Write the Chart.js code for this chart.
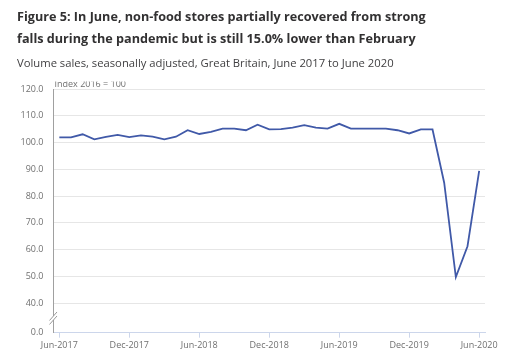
<!DOCTYPE html>
<html>
<head>
<meta charset="utf-8">
<script src="https://cdn.jsdelivr.net/npm/chart.js@4.4.1/dist/chart.umd.min.js"></script>
<style>
  html, body { margin: 0; padding: 0; background: #fff; }
  #wrap { position: relative; width: 515px; height: 359px; overflow: hidden; }
  #c { position: absolute; left: 0; top: 0; }
  .t { position: absolute; left: 17px; font-family: "Open Sans", sans-serif; white-space: nowrap; }
  #t1 { top: 5px; font-size: 12.65px; font-weight: 700; color: #323132; line-height: 22px; }
  #sub { top: 55px; font-size: 11.25px; color: #414042; line-height: 16px; }
</style>
</head>
<body>
<div id="wrap">
  <canvas id="c" width="515" height="359"></canvas>
  <div class="t" id="t1">Figure 5: In June, non-food stores partially recovered from strong<br>falls during the pandemic but is still 15.0% lower than February</div>
  <div class="t" id="sub">Volume sales, seasonally adjusted, Great Britain, June 2017 to June 2020</div>
</div>
<script>
const months = [
  "Jun-2017","Jul-2017","Aug-2017","Sep-2017","Oct-2017","Nov-2017","Dec-2017",
  "Jan-2018","Feb-2018","Mar-2018","Apr-2018","May-2018","Jun-2018",
  "Jul-2018","Aug-2018","Sep-2018","Oct-2018","Nov-2018","Dec-2018",
  "Jan-2019","Feb-2019","Mar-2019","Apr-2019","May-2019","Jun-2019",
  "Jul-2019","Aug-2019","Sep-2019","Oct-2019","Nov-2019","Dec-2019",
  "Jan-2020","Feb-2020","Mar-2020","Apr-2020","May-2020","Jun-2020"
];
const nonFoodIndex = [
  101.9, 101.9, 103.1, 101.2, 102.1, 102.9, 102.0,
  102.7, 102.2, 101.2, 102.2, 104.6, 103.2,
  104.0, 105.2, 105.2, 104.6, 106.7, 104.9,
  105.0, 105.6, 106.5, 105.6, 105.2, 107.0,
  105.2, 105.2, 105.2, 105.2, 104.6, 103.4,
  104.9, 104.9, 85.0, 49.8, 61.3, 89.4
];
const yTickValues = [40, 50, 60, 70, 80, 90, 100, 110, 120];
const yBreakValue = 29;          // bottom of the broken axis, labelled 0.0
const yBreakLabel = "0.0";
const yAxisTitle = "Index 2016 = 100";

const tickFont = { family: "'Open Sans', sans-serif", size: 9 };
const tickColor = "#707070";

const extras = {
  id: "extras",
  afterDraw(chart) {
    const ctx = chart.ctx;
    const y = chart.scales.y;
    const xAxisLeft = chart.chartArea.left;
    ctx.save();
    ctx.beginPath();
    ctx.rect(0, 81.5, 515, 20);
    ctx.clip();
    ctx.font = "9px 'Open Sans', sans-serif";
    ctx.fillStyle = "#707070";
    ctx.textBaseline = "alphabetic";
    ctx.textAlign = "left";
    ctx.fillText(yAxisTitle, xAxisLeft + 1, 87);
    ctx.restore();
    const yb = (y.getPixelForValue(40) + y.getPixelForValue(yBreakValue)) / 2;
    ctx.save();
    ctx.fillStyle = "#fff";
    ctx.fillRect(xAxisLeft - 2, yb - 2, 4, 4);
    ctx.strokeStyle = "#999";
    ctx.lineWidth = 1;
    ctx.beginPath();
    ctx.moveTo(xAxisLeft - 4, yb + 2.5);
    ctx.lineTo(xAxisLeft + 3.5, yb - 6);
    ctx.moveTo(xAxisLeft - 4, yb + 6.5);
    ctx.lineTo(xAxisLeft + 3.5, yb - 2);
    ctx.stroke();
    ctx.restore();
  }
};

new Chart(document.getElementById("c"), {
  type: "line",
  data: {
    labels: months,
    datasets: [{
      data: nonFoodIndex,
      borderColor: "#4059a8",
      borderWidth: 1.8,
      pointRadius: 0,
      tension: 0,
      fill: false
    }]
  },
  options: {
    responsive: false,
    animation: false,
    devicePixelRatio: 1,
    layout: { padding: { left: 0, top: 89, right: 30, bottom: 0 } },
    plugins: { legend: { display: false }, tooltip: { enabled: false } },
    scales: {
      x: {
        type: "category",
        offset: true,
        afterBuildTicks(scale) {
          scale.ticks = scale.ticks.filter(t => t.value % 6 === 0);
        },
        afterFit(scale) { scale.height = 26.3; },
        grid: { display: true, drawOnChartArea: false, drawTicks: true, tickLength: 5, tickColor: "#ccd6eb", color: "#ccd6eb" },
        border: { display: true, color: "#ccd6eb", width: 1 },
        ticks: { autoSkip: false, maxRotation: 0, minRotation: 0, padding: 2, font: tickFont, color: tickColor }
      },
      y: {
        min: yBreakValue,
        max: 120,
        afterBuildTicks(scale) {
          scale.ticks = [yBreakValue].concat(yTickValues).map(v => ({ value: v }));
        },
        afterFit(scale) { scale.width = 53.5; },
        grid: {
          drawTicks: false,
          color: ctx => (ctx.tick && ctx.tick.value === yBreakValue) ? "rgba(0,0,0,0)" : "#e6e6e6"
        },
        border: { display: true, color: "#a0a0a0", width: 1 },
        ticks: {
          padding: 10,
          font: tickFont,
          color: tickColor,
          callback: v => v === yBreakValue ? yBreakLabel : Number(v).toFixed(1)
        }
      }
    }
  },
  plugins: [extras]
});
</script>
</body>
</html>
